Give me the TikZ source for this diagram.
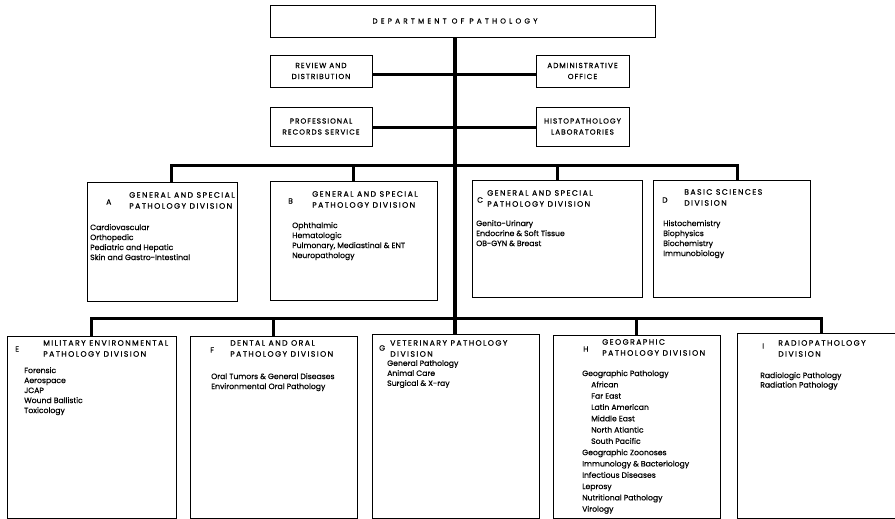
\documentclass[tikz,border=0pt]{standalone}
\usepackage{fontspec}
\setmainfont{Poppins}
\newfontfamily\chartfont[FakeBold=0.6]{Poppins}
\newfontfamily\capsfont[LetterSpace=18,FakeBold=0.6]{Poppins}
\newfontfamily\officefont[LetterSpace=14,FakeBold=0.6]{Poppins}
\newfontfamily\titlefont[LetterSpace=45,FakeBold=0.6]{Poppins}
\usetikzlibrary{positioning}

\begin{document}
\begin{tikzpicture}[
  x=1pt,y=-1pt,
  office/.style={draw,line width=0.9pt,inner sep=0pt,align=center,
    font=\officefont\fontsize{7.3}{11}\selectfont},
  division/.style={draw,line width=0.9pt,inner sep=0pt},
  dletter/.style={anchor=west,inner sep=0pt,font=\chartfont\fontsize{7.6}{10}\selectfont},
  dhead/.style={anchor=north west,inner sep=0pt,align=left,
    font=\capsfont\fontsize{7.8}{11}\selectfont},
  dbody/.style={anchor=north west,inner sep=0pt,align=left,
    font=\chartfont\fontsize{7.7}{10}\selectfont},
  link/.style={line width=3pt}
]
  \useasboundingbox (0,0) rectangle (895,519);
  \clip (0,0) rectangle (895,519);

  \node[office,minimum width=385pt,minimum height=32pt] (dept) at (462.5,21) {};
  \node[inner sep=0pt,font=\titlefont\fontsize{7.2}{8}\selectfont] (deptL) at (455,21) {DEPARTMENT OF PATHOLOGY};
  \node[office,minimum width=102pt,minimum height=32pt] (review) at (321,71) {REVIEW AND\\DISTRIBUTION};
  \node[office,minimum width=93pt,minimum height=32pt] (admin) at (582.5,71) {ADMINISTRATIVE\\OFFICE};
  \node[office,minimum width=102pt,minimum height=39pt] (records) at (321,126.5) {PROFESSIONAL\\RECORDS SERVICE};
  \node[office,minimum width=93pt,minimum height=39pt] (histo) at (582.5,126.5) {HISTOPATHOLOGY\\LABORATORIES};

  \node[division,minimum width=150pt,minimum height=119pt] (a) at (162,241.5) {};
  \node[division,minimum width=167pt,minimum height=119pt] (b) at (353.5,240.5) {};
  \node[division,minimum width=170pt,minimum height=117pt] (c) at (557,238.5) {};
  \node[division,minimum width=157pt,minimum height=117pt] (d) at (731.5,238.5) {};

  \node[division,minimum width=169pt,minimum height=182pt] (e) at (91.5,427) {};
  \node[division,minimum width=167pt,minimum height=182pt] (f) at (273.5,427) {};
  \node[division,minimum width=167pt,minimum height=184pt] (g) at (455.5,426) {};
  \node[division,minimum width=167pt,minimum height=183pt] (h) at (636.5,426.5) {};
  \node[division,minimum width=168pt,minimum height=185pt] (i) at (821,425.5) {};

  \coordinate (trunk) at (455,318);
  \coordinate (busA) at (171,165);
  \coordinate (busD) at (737,165);
  \draw[link,line width=3.5pt] (dept.south -| trunk) -- (g.north -| trunk);
  \draw[link] ([yshift=-4pt]review.east) -- ([yshift=-4pt]admin.west);
  \draw[link] ([yshift=-0.5pt]records.east) -- ([yshift=-0.5pt]histo.west);
  \draw[link] (a.north -| busA) -- (busA) -- (busD) -- (d.north -| busD);
  \draw[link] (b.north) -- (b.north |- busA);
  \draw[link] (c.north) -- (c.north |- busA);
  \draw[link] (e.north) -- (e.north |- trunk) -- (i.north |- trunk) -- (i.north);
  \draw[link] (f.north) -- (f.north |- trunk);
  \draw[link] (h.north) -- (h.north |- trunk);

  \node[dletter] (aL) at (106,202) {A};
  \node[dhead] (aH) at (129,192) {GENERAL AND SPECIAL\\PATHOLOGY DIVISION};
  \node[dbody] (aB) at (90,224) {Cardiovascular\\Orthopedic\\Pediatric and Hepatic\\Skin and Gastro-Intestinal};

  \node[dletter] (bL) at (288,201) {B};
  \node[dhead] (bH) at (312,191) {GENERAL AND SPECIAL\\PATHOLOGY DIVISION};
  \node[dbody] (bB) at (292,222) {Ophthalmic\\Hematologic\\Pulmonary, Mediastinal \& ENT\\Neuropathology};

  \node[dletter] (cL) at (477,200) {C};
  \node[dhead] (cH) at (487,190) {GENERAL AND SPECIAL\\PATHOLOGY DIVISION};
  \node[dbody] (cB) at (476,220) {Genito-Urinary\\Endocrine \& Soft Tissue\\OB-GYN \& Breast};

  \node[dletter] (dL) at (662,200) {D};
  \node[dhead] (dH) at (684,189) {BASIC SCIENCES\\DIVISION};
  \node[dbody] (dB) at (663,220) {Histochemistry\\Biophysics\\Biochemistry\\Immunobiology};

  \node[dletter] (eL) at (15,349) {E};
  \node[dhead] (eH) at (43,340) {MILITARY ENVIRONMENTAL\\PATHOLOGY DIVISION};
  \node[dbody] (eB) at (24,367) {Forensic\\Aerospace\\JCAP\\Wound Ballistic\\Toxicology};

  \node[dletter] (fL) at (210,350) {F};
  \node[dhead] (fH) at (230,340) {DENTAL AND ORAL\\PATHOLOGY DIVISION};
  \node[dbody] (fB) at (211,373) {Oral Tumors \& General Diseases\\Environmental Oral Pathology};

  \node[dletter] (gL) at (379,348) {G};
  \node[dhead] (gH) at (390,340) {VETERINARY PATHOLOGY\\DIVISION};
  \node[dbody] (gB) at (387,360) {General Pathology\\Animal Care\\Surgical \& X-ray};

  \node[dletter] (hL) at (583,349) {H};
  \node[dhead] (hH) at (602,339) {GEOGRAPHIC\\PATHOLOGY DIVISION};
  \node[dbody,font=\chartfont\fontsize{7.7}{11.3}\selectfont] (hB) at (582,370)
    {Geographic Pathology\\\hspace*{9pt}African\\\hspace*{9pt}Far East\\\hspace*{9pt}Latin American\\
     \hspace*{9pt}Middle East\\\hspace*{9pt}North Atlantic\\\hspace*{9pt}South Pacific\\
     Geographic Zoonoses\\Immunology \& Bacteriology\\Infectious Diseases\\Leprosy\\
     Nutritional Pathology\\Virology};

  \node[dletter] (iL) at (762,346) {I};
  \node[dhead] (iH) at (778,340) {RADIOPATHOLOGY\\DIVISION};
  \node[dbody,font=\chartfont\fontsize{7.7}{9.5}\selectfont] (iB) at (760,372) {Radiologic Pathology\\Radiation Pathology};
\end{tikzpicture}
\end{document}
